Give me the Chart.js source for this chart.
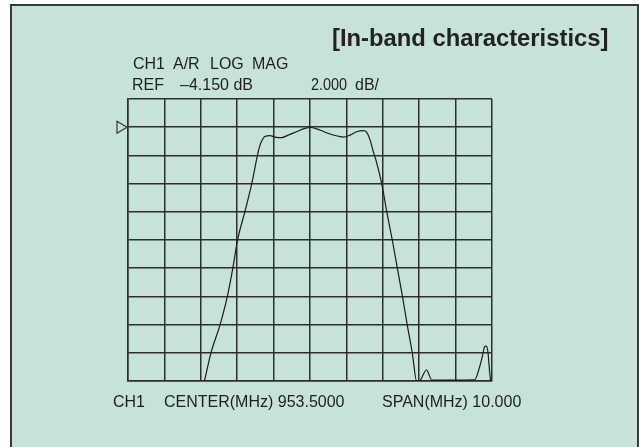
<!DOCTYPE html>
<html>
<head>
<meta charset="utf-8">
<script src="https://cdn.jsdelivr.net/npm/chart.js@4.4.1/dist/chart.umd.min.js"></script>
<style>
  html, body { margin: 0; padding: 0; background: #fff; overflow: hidden; }
  .frame {
    position: absolute; left: 10px; top: 4px; width: 625px; height: 470px;
    background: #c7e3d9; border: 2px solid #3a3a3a;
  }
  canvas { position: absolute; left: 0; top: 0; }
  .t {
    position: absolute; font-family: "Liberation Sans", Arial, sans-serif;
    font-size: 16px; line-height: 16px; color: #1e1e1e; white-space: pre;
  }
  .narrow { transform: scaleX(0.9); transform-origin: left center; }
  .title { font-size: 23.8px; line-height: 23.8px; font-weight: bold; color: #222; }
</style>
</head>
<body>
<div class="frame"></div>
<canvas id="chart" width="639" height="447"></canvas>

<div class="t title" style="left:332px; top:26px;">[In-band characteristics]</div>

<div class="t" style="left:133px; top:56px;">CH1</div>
<div class="t" style="left:173px; top:56px;">A/R</div>
<div class="t" style="left:210px; top:56px;">LOG</div>
<div class="t" style="left:252px; top:56px;">MAG</div>

<div class="t" style="left:132px; top:77px;">REF</div>
<div class="t" style="left:180px; top:77px;">–4.150 dB</div>
<div class="t narrow" style="left:311px; top:77px;">2.000</div>
<div class="t" style="left:355px; top:77px;">dB/</div>

<div class="t" style="left:113px; top:394px;">CH1</div>
<div class="t" style="left:164px; top:394px;">CENTER(MHz) 953.5000</div>
<div class="t" style="left:382px; top:394px;">SPAN(MHz) 10.000</div>

<script>
// analyzer settings
const refDb = -4.15;
const dbPerDiv = 2;
const centerMHz = 953.5;
const spanMHz = 10;

// trace
const freqMHz = [950.60, 950.78, 951.03, 951.23, 951.38, 951.51, 951.71, 951.90, 952.04, 952.10,
  952.17, 952.26, 952.40, 952.54, 952.72, 952.90, 953.13, 953.36, 953.53, 953.77,
  954.05, 954.28, 954.42, 954.60, 954.78, 954.96, 955.06, 955.15, 955.24, 955.32,
  955.47, 955.61, 955.76, 955.90, 956.04, 956.17, 956.31, 956.43, 956.50, 956.70,
  956.85, 957.50, 958.02, 958.16, 958.24, 958.30, 958.35, 958.39, 958.43, 958.46];
const magDb = [-22.15, -20.15, -18.15, -16.15, -14.15, -12.15, -10.15, -8.15, -6.35, -5.65,
  -5.15, -4.81, -4.75, -4.85, -4.89, -4.71, -4.47, -4.23, -4.17, -4.35,
  -4.63, -4.79, -4.85, -4.71, -4.47, -4.39, -4.51, -5.05, -5.89, -6.55,
  -8.15, -10.15, -12.15, -14.15, -16.15, -18.15, -20.15, -22.15, -22.15, -21.37,
  -22.09, -22.09, -22.07, -21.15, -20.35, -19.71, -19.67, -20.15, -21.35, -22.15];

// ref line sits one division below the top of the screen
const topDb = refDb + dbPerDiv;
const bottomDb = topDb - 10 * dbPerDiv;
const startMHz = centerMHz - spanMHz / 2;

const points = freqMHz.map((f, i) => ({ x: f, y: magDb[i] }));

// little open triangle at the reference level
const refMarker = {
  id: 'refMarker',
  afterDraw(chart) {
    const ctx = chart.ctx;
    const y = chart.scales.y.getPixelForValue(refDb);
    const x = chart.chartArea.left;
    ctx.save();
    ctx.strokeStyle = '#333';
    ctx.lineWidth = 1.2;
    ctx.beginPath();
    ctx.moveTo(x - 11, y - 6);
    ctx.lineTo(x - 1, y);
    ctx.lineTo(x - 11, y + 6);
    ctx.closePath();
    ctx.stroke();
    ctx.restore();
  }
};

const gridColor = '#2e2e2e';

new Chart(document.getElementById('chart').getContext('2d'), {
  type: 'line',
  data: {
    datasets: [{
      data: points,
      borderColor: '#1a1a1a',
      borderWidth: 1.2,
      pointRadius: 0,
      fill: false,
      cubicInterpolationMode: 'monotone'
    }]
  },
  options: {
    responsive: false,
    animation: false,
    layout: { padding: { left: 128, top: 99, right: 147, bottom: 66 } },
    plugins: { legend: { display: false }, tooltip: { enabled: false } },
    scales: {
      x: {
        type: 'linear',
        min: startMHz,
        max: startMHz + spanMHz,
        afterBuildTicks: (axis) => {
          axis.ticks = Array.from({ length: 11 }, (_, i) => ({ value: startMHz + i * spanMHz / 10 }));
        },
        ticks: { display: false },
        grid: { color: gridColor, lineWidth: 1.5, drawTicks: false },
        border: { color: gridColor, width: 1.5 }
      },
      y: {
        min: bottomDb,
        max: topDb,
        afterBuildTicks: (axis) => {
          axis.ticks = Array.from({ length: 11 }, (_, i) => ({ value: bottomDb + i * dbPerDiv }));
        },
        ticks: { display: false },
        grid: { color: gridColor, lineWidth: 1.5, drawTicks: false },
        border: { color: gridColor, width: 1.5 }
      }
    }
  },
  plugins: [refMarker]
});
</script>
</body>
</html>
